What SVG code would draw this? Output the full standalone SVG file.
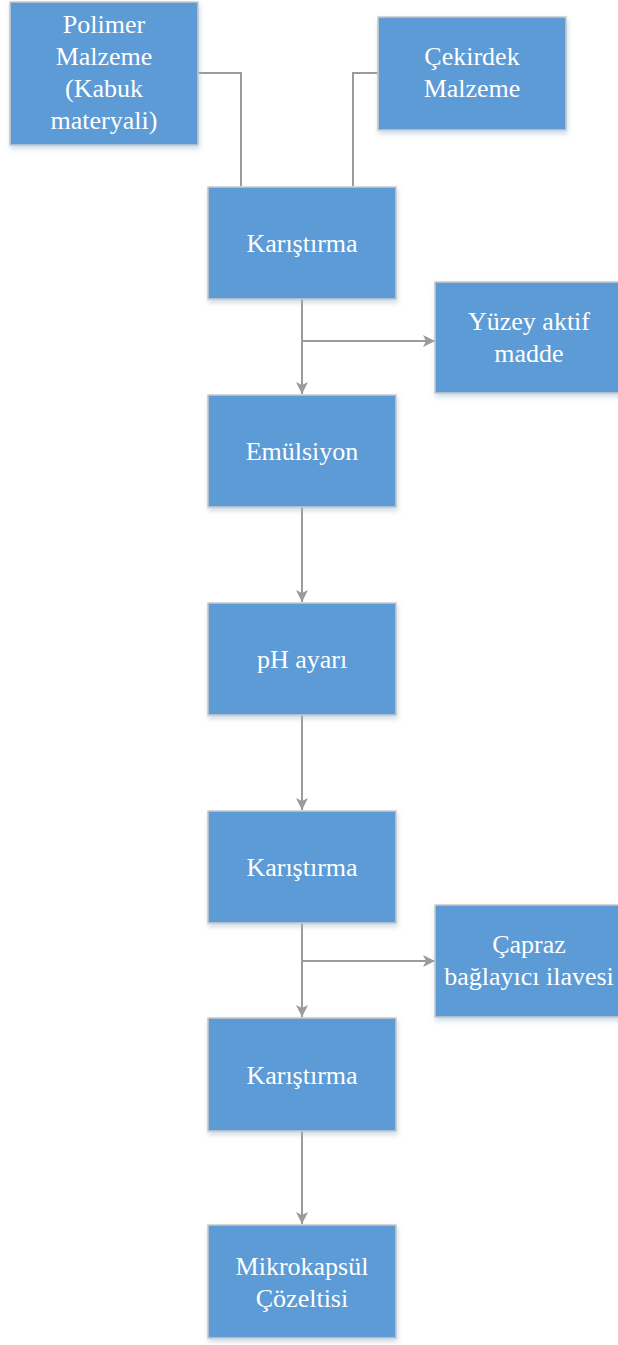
<svg xmlns="http://www.w3.org/2000/svg" width="618" height="1345" viewBox="0 0 618 1345">
<defs>
<filter id="sh" x="-10%" y="-10%" width="125%" height="130%">
<feDropShadow dx="1" dy="3" stdDeviation="2.5" flood-color="#9DB5CF" flood-opacity="0.5"/>
</filter>
<marker id="ah" viewBox="0 0 12 12" markerWidth="12" markerHeight="12" refX="12" refY="6" orient="auto" markerUnits="userSpaceOnUse">
<path d="M0,0 L12,6 L0,12 L3,6 Z" fill="#9B9B9B"/>
</marker>
<style>
.box{fill:#5B9BD5;stroke:#C9C9C9;stroke-width:1.5;filter:url(#sh);}
.t{font-family:"Liberation Serif","Times New Roman",serif;font-size:26px;fill:#FFFFFF;text-anchor:middle;}
.c{fill:none;stroke:#9B9B9B;stroke-width:2;}
</style>
</defs>
<rect width="618" height="1345" fill="#FFFFFF"/>
<g id="connectors">
<path class="c" d="M198,73 H241 V186"/>
<path class="c" d="M378,73 H353 V186"/>
<path class="c" d="M302,299 V394" marker-end="url(#ah)"/>
<path class="c" d="M302,341 H435" marker-end="url(#ah)"/>
<path class="c" d="M302,507 V602" marker-end="url(#ah)"/>
<path class="c" d="M302,715 V810" marker-end="url(#ah)"/>
<path class="c" d="M302,923 V1017" marker-end="url(#ah)"/>
<path class="c" d="M302,961 H435" marker-end="url(#ah)"/>
<path class="c" d="M302,1131 V1224" marker-end="url(#ah)"/>
</g>
<g id="polimer">
<rect class="box" x="10" y="2" width="188" height="143"/>
<text class="t" x="104" y="33">Polimer</text>
<text class="t" x="104" y="65">Malzeme</text>
<text class="t" x="104" y="97">(Kabuk</text>
<text class="t" x="104" y="129">materyali)</text>
</g>
<g id="cekirdek">
<rect class="box" x="378" y="17" width="188" height="113"/>
<text class="t" x="472" y="65">Çekirdek</text>
<text class="t" x="472" y="97">Malzeme</text>
</g>
<g id="karistirma1">
<rect class="box" x="208" y="187" width="188" height="112"/>
<text class="t" x="302" y="252">Karıştırma</text>
</g>
<g id="yuzey">
<rect class="box" x="435" y="282" width="188" height="111"/>
<text class="t" x="529" y="330">Yüzey aktif</text>
<text class="t" x="529" y="362">madde</text>
</g>
<g id="emulsiyon">
<rect class="box" x="208" y="395" width="188" height="112"/>
<text class="t" x="302" y="460">Emülsiyon</text>
</g>
<g id="ph">
<rect class="box" x="208" y="603" width="188" height="112"/>
<text class="t" x="302" y="668">pH ayarı</text>
</g>
<g id="karistirma2">
<rect class="box" x="208" y="811" width="188" height="112"/>
<text class="t" x="302" y="876">Karıştırma</text>
</g>
<g id="capraz">
<rect class="box" x="435" y="905" width="188" height="112"/>
<text class="t" x="529" y="953">Çapraz</text>
<text class="t" x="529" y="985">bağlayıcı ilavesi</text>
</g>
<g id="karistirma3">
<rect class="box" x="208" y="1018" width="188" height="113"/>
<text class="t" x="302" y="1084">Karıştırma</text>
</g>
<g id="mikrokapsul">
<rect class="box" x="208" y="1225" width="188" height="113"/>
<text class="t" x="302" y="1275">Mikrokapsül</text>
<text class="t" x="302" y="1307">Çözeltisi</text>
</g>
</svg>
